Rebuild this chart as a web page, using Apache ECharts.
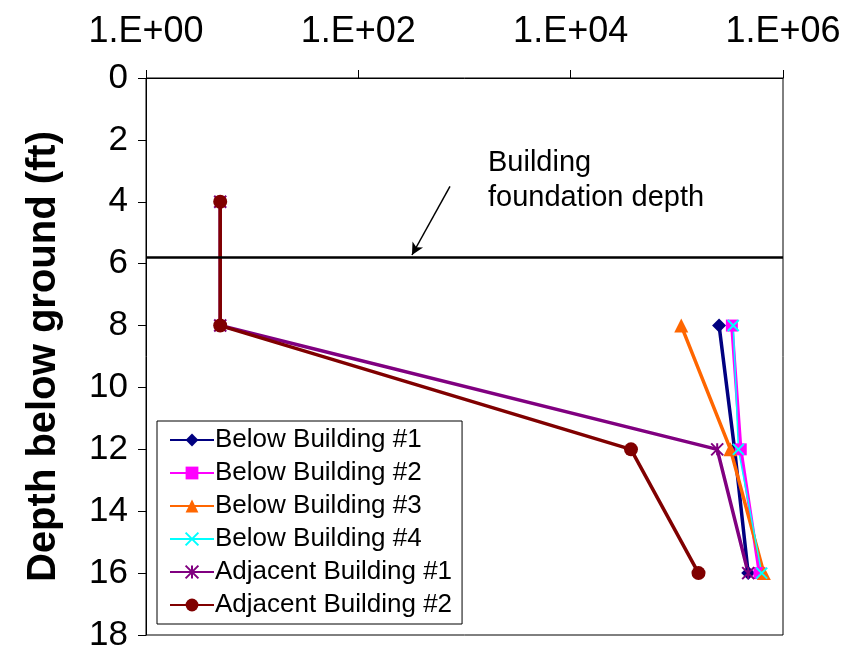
<!DOCTYPE html>
<html>
<head>
<meta charset="utf-8">
<script src="https://cdn.jsdelivr.net/npm/echarts@6/dist/echarts.min.js"></script>
<style>
html,body{margin:0;padding:0;background:#fff;}
#chart{width:863px;height:648px;}
</style>
</head>
<body>
<div id="chart"></div>
<script>
// ---- data ----
const depthsBelow = [8, 12, 16];
const depthsAdjacent = [4, 8, 12, 16];
const below1 = [2.5e5, 3.5e5, 4.7e5];
const below2 = [3.3e5, 4.0e5, 6.0e5];
const below3 = [1.1e5, 3.2e5, 6.6e5];
const below4 = [3.4e5, 3.8e5, 6.3e5];
const adjacent1 = [5, 5, 2.4e5, 4.7e5];
const adjacent2 = [5, 5, 3.7e4, 1.6e5];
const seriesNames = ['Below Building #1','Below Building #2','Below Building #3','Below Building #4','Adjacent Building #1','Adjacent Building #2'];
const foundationDepth = 5.8;
const yTicks = [0,2,4,6,8,10,12,14,16,18];
const xTickLabels = ['1.E+00','1.E+02','1.E+04','1.E+06'];

const FONT = '"Liberation Sans", Arial, sans-serif';
function pairs(xs, ys){ return xs.map((v,i)=>[v, ys[i]]); }

const crossPath = 'path://M0,0L10,10M10,0L0,10';
const starPath = 'path://M5,0L5,10M0,0L10,10M10,0L0,10';

function mk(name, xs, ys, color, symbol, size, lw, strokeSym){
  return {
    name, type:'line', data:pairs(xs, ys), symbol, symbolSize:size,
    lineStyle:{color, width:lw}, itemStyle:{color, borderColor: color, borderWidth: strokeSym ? 2 : 0},
    z: 3
  };
}

const chart = echarts.init(document.getElementById('chart'));
const series = [
  mk(seriesNames[0], below1, depthsBelow, '#000080', 'diamond', 14, 3.5, false),
  mk(seriesNames[1], below2, depthsBelow, '#FF00FF', 'rect', 12, 3.5, false),
  mk(seriesNames[2], below3, depthsBelow, '#FF6600', 'triangle', 14, 3.5, false),
  mk(seriesNames[3], below4, depthsBelow, '#00FFFF', crossPath, 11, 1.5, true),
  mk(seriesNames[4], adjacent1, depthsAdjacent, '#800080', starPath, 12, 3.5, true),
  mk(seriesNames[5], adjacent2, depthsAdjacent, '#800000', 'circle', 14, 3.5, false)
];
series[3].itemStyle.color = 'none';
series[4].itemStyle.color = 'none';
// foundation line + arrow annotation
series.push({
  type:'line', data:[], silent:true,
  markLine:{
    silent:true, animation:false,
    label:{show:false},
    data:[
      [{coord:[1, foundationDepth], symbol:'none', lineStyle:{color:'#000', width:2.5, type:'solid'}},
       {coord:[1e6, foundationDepth], symbol:'none'}],
      [{coord:[730, 3.5], symbol:'none', lineStyle:{color:'#000', width:1.5, type:'solid'}},
       {coord:[320, 5.72], symbol:'arrow', symbolSize:[9,12]}]
    ]
  }
});

chart.setOption({
  animation:false,
  backgroundColor:'#fff',
  grid:{left:146, top:78, right:80, bottom:13, outerBoundsMode:'none', containLabel:false,
        show:true, borderColor:'#000', borderWidth:1, backgroundColor:'transparent'},
  legend:{
    orient:'vertical', left:157, top:421, data:seriesNames,
    itemWidth:44, itemHeight:16, itemGap:7,
    padding:[6,10,6,12],
    borderColor:'#000', borderWidth:1, backgroundColor:'#fff',
    textStyle:{fontFamily:FONT, fontSize:26, color:'#000', padding:[0,0,0,-4]}
  },
  xAxis:{
    type:'log', logBase:10, min:1, max:1e6, interval:2, position:'top',
    axisLine:{show:true, lineStyle:{color:'#000', width:1}},
    axisTick:{show:true, inside:false, length:8, lineStyle:{color:'#000'}},
    splitLine:{show:false}, minorTick:{show:false},
    axisLabel:{fontFamily:FONT, fontSize:36, color:'#000', margin:28,
      formatter:function(v){ const e=Math.round(Math.log10(v)); const s='1.E+'+(e<10?'0':'')+e; return xTickLabels.indexOf(s)>=0?s:''; }}
  },
  yAxis:{
    type:'value', inverse:true, min:0, max:18, interval:2,
    name:'Depth below ground (ft)', nameLocation:'middle', nameGap:82, nameRotate:90,
    nameTextStyle:{fontFamily:FONT, fontSize:40, fontWeight:'bold', color:'#000'},
    axisLine:{show:true, lineStyle:{color:'#000', width:1}},
    axisTick:{show:true, inside:false, length:8, lineStyle:{color:'#000'}},
    splitLine:{show:false},
    axisLabel:{fontFamily:FONT, fontSize:35, color:'#000', margin:18,
      formatter:function(v){ return yTicks.indexOf(v)>=0 ? String(v) : ''; }}
  },
  graphic:[
    {type:'text', left:488, top:145, style:{text:'Building\nfoundation depth', fontFamily:FONT, fontSize:29, lineHeight:35, fill:'#000'}},
    {type:'text', left:245, top:-38, style:{text:'Soil Gas Concentration (\u00b5g/m3)', fontFamily:FONT, fontSize:38, fontWeight:'bold', fill:'#000'}}
  ],
  series: series
});
</script>
</body>
</html>
